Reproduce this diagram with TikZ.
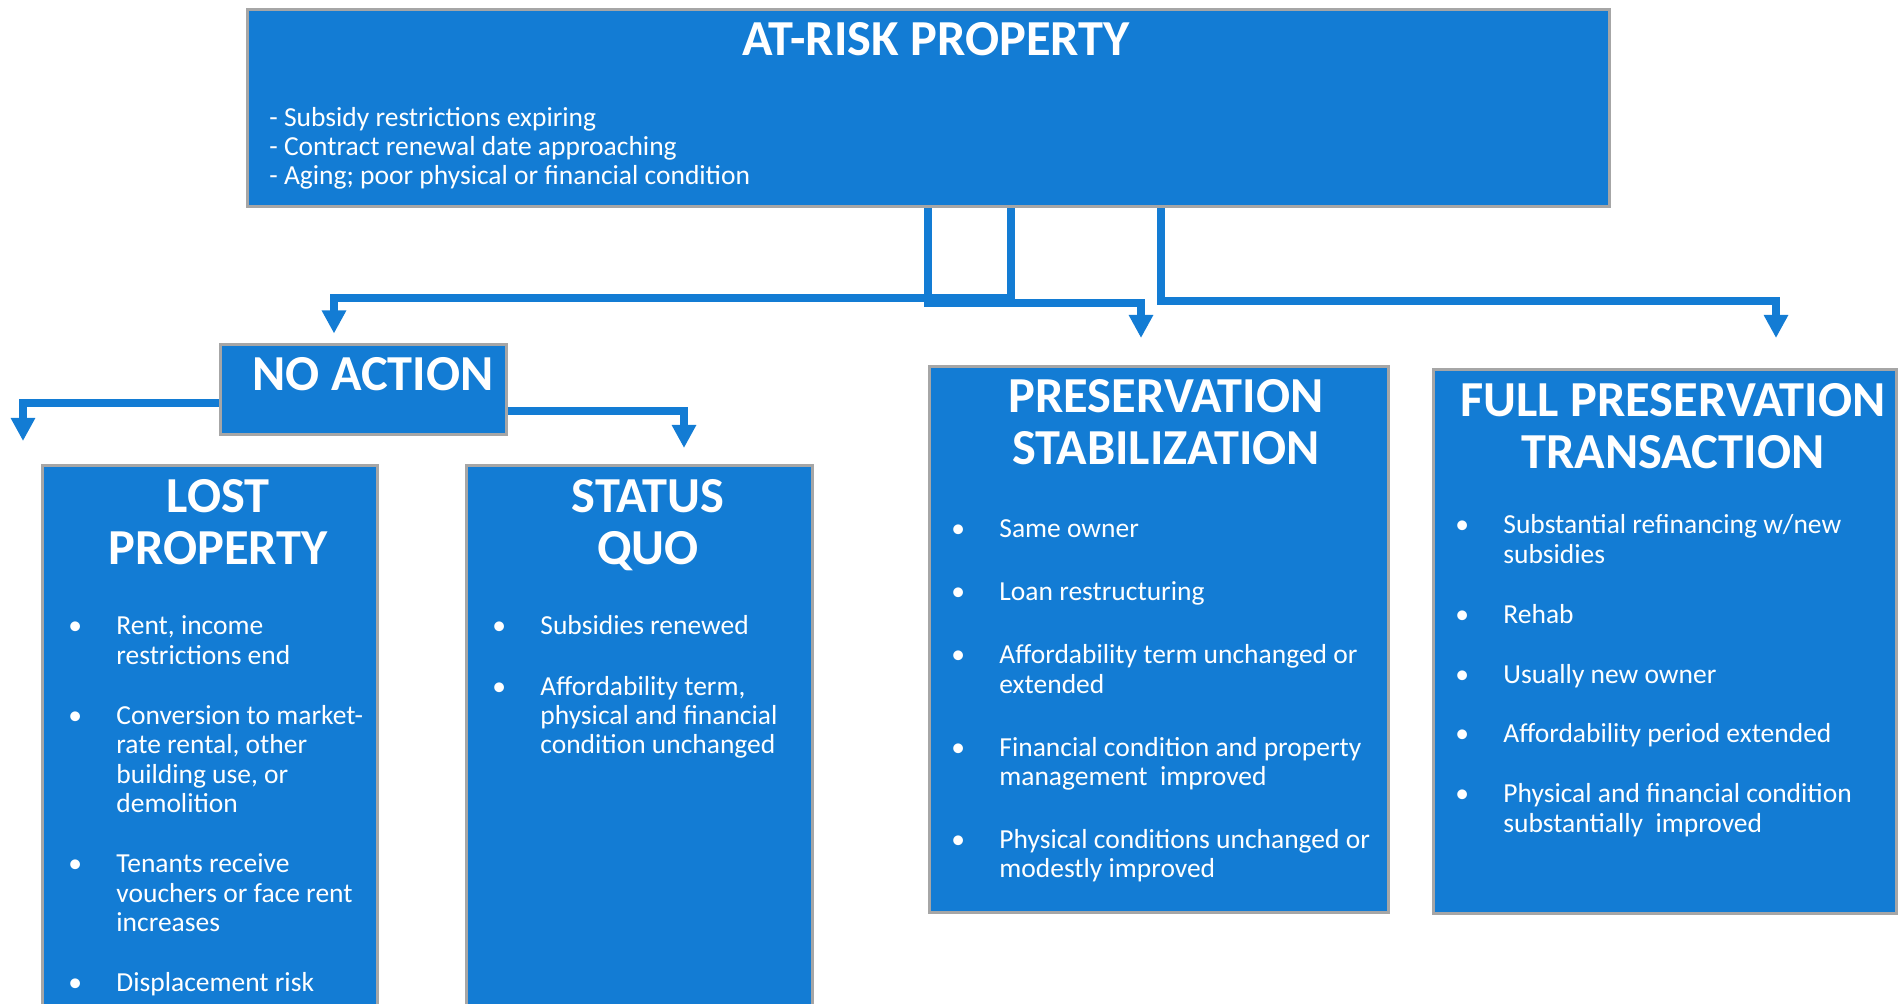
\documentclass[tikz,border=0pt]{standalone}
\usepackage{fontspec}
\setmainfont{Carlito}
\usetikzlibrary{arrows.meta,calc,backgrounds}
\definecolor{boxblue}{RGB}{19,124,212}
\definecolor{rimgray}{RGB}{166,166,166}
\tikzset{
  box/.style ={draw=rimgray, line width=1.5pt, fill=boxblue, inner sep=0pt, anchor=north west},
  ttl/.style ={text=white, font=\fontsize{25.2}{26}\selectfont\bfseries, align=center, anchor=base, inner sep=0pt},
  lst/.style ={text=white, font=\fontsize{13.75}{14.65}\selectfont, inner sep=0pt, anchor=base west},
  conn/.style={draw=boxblue, line width=4pt, -{Triangle[width=11.5pt,length=11.5pt]}},
}
\newcommand{\bu}{\textbullet}

\begin{document}
\begin{tikzpicture}[x=0.5pt,y=-0.5pt]
  \useasboundingbox (0,0) rectangle (1900,1004);

  % boxes
  \node[box, minimum width=681pt,   minimum height=98.5pt] (risk) at (245.5,8.5) {};
  \node[box, minimum width=143pt,   minimum height=45pt]   (noact) at (218.5,343.5) {};
  \node[box, minimum width=167.5pt, minimum height=280pt]  (lost) at (40.5,464.5) {};
  \node[box, minimum width=173pt,   minimum height=280pt]  (status) at (464.5,464.5) {};
  \node[box, minimum width=229.5pt, minimum height=272.5pt] (pres) at (927.5,365.5) {};
  \node[box, minimum width=231.5pt, minimum height=271.5pt] (full) at (1431.5,368.5) {};

  % titles (base = last line)
  \node[ttl] (riskT)   at ($(risk.north)+(8,47.5)$) {AT-RISK PROPERTY};
  \node[ttl] (noactT)  at ($(noact.north)+(10,47.5)$) {NO ACTION};
  \node[ttl] (lostT)   at ($(lost.north)+(8.5,100.5)$) {LOST\\PROPERTY};
  \node[ttl] (statusT) at ($(status.north)+(9,100.5)$) {STATUS\\QUO};
  \node[ttl] (presT)   at ($(pres.north)+(7.5,99.5)$) {PRESERVATION\\STABILIZATION};
  \node[ttl] (fullT)   at ($(full.north)+(8.5,100.5)$) {FULL PRESERVATION\\TRANSACTION};

  % text inside the boxes
  \node[lst, align=left, font=\fontsize{13.75}{14.5}\selectfont] (riskL) at ($(risk.north west)+(23.5,176)$)
    {- Subsidy restrictions expiring\\- Contract renewal date approaching\\- Aging; poor physical or financial condition};

  \node[lst] (lostL) at ($(lost.north west)+(27.5,170.5)$) {%
    \begin{tabular}[t]{@{}p{24pt}@{}l@{}}
    \bu & Rent, income\\
        & restrictions end\\[15.5pt]
    \bu & Conversion to market-\\
        & rate rental, other\\
        & building use, or\\
        & demolition\\[15.5pt]
    \bu & Tenants receive\\
        & vouchers or face rent\\
        & increases\\[15.5pt]
    \bu & Displacement risk
    \end{tabular}};

  \node[lst] (statusL) at ($(status.north west)+(27.5,170.5)$) {%
    \begin{tabular}[t]{@{}p{24pt}@{}l@{}}
    \bu & Subsidies renewed\\[15.5pt]
    \bu & Affordability term,\\
        & physical and financial\\
        & condition unchanged
    \end{tabular}};

  \node[lst] (presL) at ($(pres.north west)+(23.5,172.5)$) {%
    \begin{tabular}[t]{@{}p{24pt}@{}l@{}}
    \bu & Same owner\\[16.85pt]
    \bu & Loan restructuring\\[16.85pt]
    \bu & Affordability term unchanged or\\
        & extended\\[16.85pt]
    \bu & Financial condition and property\\
        & management\ \ improved\\[16.85pt]
    \bu & Physical conditions unchanged or\\
        & modestly improved
    \end{tabular}};

  \node[lst] (fullL) at ($(full.north west)+(23.5,165.5)$) {%
    \begin{tabular}[t]{@{}p{24pt}@{}l@{}}
    \bu & Substantial refinancing w/new\\
        & subsidies\\[15.3pt]
    \bu & Rehab\\[15.3pt]
    \bu & Usually new owner\\[15.3pt]
    \bu & Affordability period extended\\[15.3pt]
    \bu & Physical and financial condition\\
        & substantially\ \ improved
    \end{tabular}};

  % connectors, kept under the boxes
  \begin{scope}[on background layer]
    \draw[conn] ($(risk.south)+(83,0)$) -- ++(0,90) -| ($(noact.north)+(-29,-10)$);
    \draw[conn] (risk.south) -- ++(0,95) -| ($(pres.north)+(-17.5,-27.5)$);
    \draw[conn] ($(risk.south)+(233,0)$) -- ++(0,93) -| ($(full.north)+(111.5,-30.5)$);
    \draw[conn] ($(noact.west)+(0,13.5)$) -| ($(lost.north)+(-186.5,-23.5)$);
    \draw[conn] ($(noact.east)+(0,21.5)$) -| ($(status.north)+(45,-16.5)$);
  \end{scope}
\end{tikzpicture}
\end{document}
